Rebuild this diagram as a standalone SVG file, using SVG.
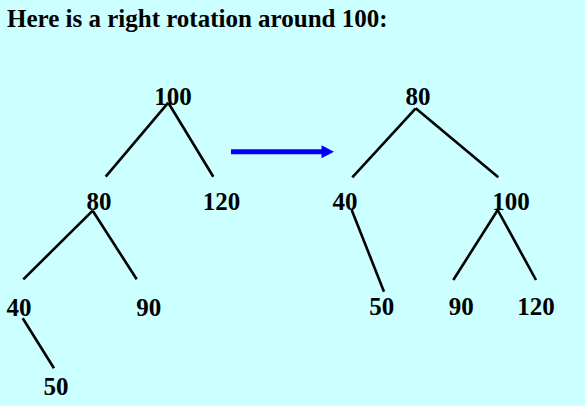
<svg xmlns="http://www.w3.org/2000/svg" width="585" height="406" viewBox="0 0 585 406">
<defs>
<style>
.t{font-family:"Liberation Serif","Times New Roman",serif;font-weight:bold;font-size:25px;fill:#000}
.n{text-anchor:middle}
.e{stroke:#000;stroke-width:2.6;fill:none}
</style>
</defs>
<rect width="585" height="406" fill="#CCFFFF"/>
<text class="t" x="7" y="27">Here is a right rotation around 100:</text>
<g id="connectors">
<line class="e" x1="168.3" y1="102.7" x2="105.7" y2="176.7"/>
<line class="e" x1="168.3" y1="102.7" x2="213.3" y2="176.7"/>
<line class="e" x1="92.7" y1="210.7" x2="23.3" y2="279.3"/>
<line class="e" x1="92.7" y1="210.7" x2="136.7" y2="279.3"/>
<line class="e" x1="22.7" y1="318.3" x2="54" y2="368.3"/>
<line class="e" x1="415.7" y1="108.3" x2="352.3" y2="177.3"/>
<line class="e" x1="415.7" y1="108.3" x2="498.3" y2="177.3"/>
<line class="e" x1="351.7" y1="210" x2="384" y2="291.7"/>
<line class="e" x1="497.7" y1="210" x2="453.3" y2="280"/>
<line class="e" x1="497.7" y1="210" x2="536" y2="280"/>
<line x1="231" y1="151.7" x2="322" y2="151.7" stroke="#0000FF" stroke-width="5"/>
<path d="M321.5,145.2 L334,151.7 L321.5,158.2 Z" fill="#0000FF"/>
</g>
<g id="L100"><text class="t n" x="173" y="105">100</text></g>
<g id="L80"><text class="t n" x="99" y="210">80</text></g>
<g id="L120"><text class="t n" x="221.5" y="210">120</text></g>
<g id="L40"><text class="t n" x="19" y="316">40</text></g>
<g id="L90"><text class="t n" x="148.7" y="316">90</text></g>
<g id="L50"><text class="t n" x="56" y="395">50</text></g>
<g id="R80"><text class="t n" x="418" y="105">80</text></g>
<g id="R40"><text class="t n" x="345" y="210">40</text></g>
<g id="R100"><text class="t n" x="511" y="210">100</text></g>
<g id="R50"><text class="t n" x="381.7" y="315">50</text></g>
<g id="R90"><text class="t n" x="461.3" y="315">90</text></g>
<g id="R120"><text class="t n" x="536" y="315">120</text></g>
</svg>
